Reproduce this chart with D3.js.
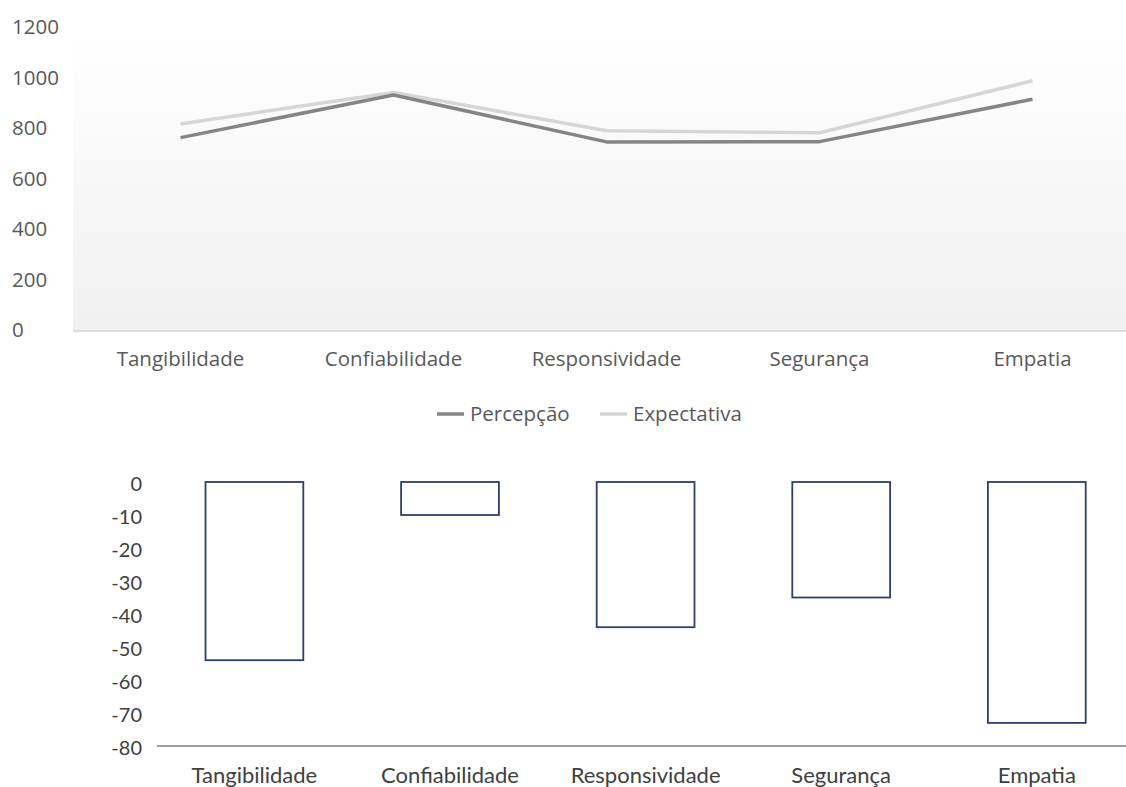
<!DOCTYPE html>
<html>
<head>
<meta charset="utf-8">
<script src="https://cdn.jsdelivr.net/npm/d3@7"></script>
<style>
  html, body { margin: 0; padding: 0; background: #fff; }
  svg { display: block; }
</style>
</head>
<body>
<svg id="chart" width="1126" height="787"></svg>
<script>
const categories = ["Tangibilidade", "Confiabilidade", "Responsividade", "Segurança", "Empatia"];
const percepcao = [762, 931, 745, 746, 914];
const expectativa = [816, 941, 789, 781, 987];
const gap = [-54, -10, -44, -35, -73];
const topTicks = [0, 200, 400, 600, 800, 1000, 1200];
const bottomTicks = [0, -10, -20, -30, -40, -50, -60, -70, -80];
const seriesNames = ["Percepção", "Expectativa"];

const svg = d3.select("#chart");
const fontTop = "'Open Sans', 'Noto Sans', sans-serif";
const fontBot = "Lato, 'Open Sans', sans-serif";
const topSize = 20.5;
const botTickSize = 20;
const botCatSize = 22;

// ---------- Top line chart ----------
const xTop = d3.scalePoint().domain(categories).range([74, 1139]).padding(0.5);
const yTop = d3.scaleLinear().domain([0, 1200]).range([330, 27]);

const defs = svg.append("defs");
const grad = defs.append("linearGradient").attr("id", "bg").attr("x1", 0).attr("y1", 0).attr("x2", 0).attr("y2", 1);
grad.append("stop").attr("offset", "0%").attr("stop-color", "#ffffff");
grad.append("stop").attr("offset", "100%").attr("stop-color", "#f0f0f0");

svg.append("rect").attr("x", 73).attr("y", 34).attr("width", 1126 - 73).attr("height", yTop(0) - 34)
  .attr("fill", "url(#bg)");
svg.append("line").attr("x1", 73).attr("x2", 1126).attr("y1", yTop(0) + 1).attr("y2", yTop(0) + 1)
  .attr("stroke", "#dcdcdc").attr("stroke-width", 2);

svg.append("g").selectAll("text").data(topTicks).join("text")
  .attr("x", 12).attr("y", d => yTop(d)).attr("dy", "0.35em")
  .attr("font-family", fontTop).attr("font-size", topSize).attr("fill", "#595959")
  .text(d => d);

svg.append("g").selectAll("text").data(categories).join("text")
  .attr("x", d => xTop(d)).attr("y", 359).attr("dy", "0.35em").attr("text-anchor", "middle")
  .attr("font-family", fontTop).attr("font-size", topSize).attr("fill", "#595959")
  .text(d => d);

const line = d3.line().x((d, i) => xTop(categories[i])).y(d => yTop(d));
const seriesColors = ["#858585", "#d6d6d6"];
svg.append("path").datum(expectativa).attr("d", line).attr("fill", "none")
  .attr("stroke", seriesColors[1]).attr("stroke-width", 3.5).attr("stroke-linejoin", "round");
svg.append("path").datum(percepcao).attr("d", line).attr("fill", "none")
  .attr("stroke", seriesColors[0]).attr("stroke-width", 3.5).attr("stroke-linejoin", "round");

// legend
const legend = svg.append("g");
const legendItems = [
  {name: seriesNames[0], color: seriesColors[0], x: 437},
  {name: seriesNames[1], color: seriesColors[1], x: 600}
];
legendItems.forEach(it => {
  legend.append("line").attr("x1", it.x).attr("x2", it.x + 27).attr("y1", 414).attr("y2", 414)
    .attr("stroke", it.color).attr("stroke-width", 3.5);
  legend.append("text").attr("x", it.x + 33).attr("y", 414).attr("dy", "0.35em")
    .attr("font-family", fontTop).attr("font-size", topSize).attr("fill", "#595959").text(it.name);
});

// ---------- Bottom bar chart ----------
const xBot = d3.scaleBand().domain(categories).range([156.6, 1134.6]).paddingInner(0.5).paddingOuter(0.25);
const yBot = d3.scaleLinear().domain([-80, 0]).range([746, 482]);

svg.append("g").selectAll("text").data(bottomTicks).join("text")
  .attr("x", 142).attr("y", d => yBot(d) + 2).attr("dy", "0.35em").attr("text-anchor", "end")
  .attr("font-family", fontBot).attr("font-size", botTickSize).attr("fill", "#404040")
  .text(d => d);

svg.append("line").attr("x1", 157).attr("x2", 1126).attr("y1", yBot(-80)).attr("y2", yBot(-80))
  .attr("stroke", "#7f7f7f").attr("stroke-width", 1.5);

svg.append("g").selectAll("rect").data(gap).join("rect")
  .attr("x", (d, i) => xBot(categories[i]))
  .attr("y", d => yBot(0))
  .attr("width", xBot.bandwidth())
  .attr("height", d => yBot(d) - yBot(0))
  .attr("fill", "#ffffff").attr("stroke", "#2f3e6b").attr("stroke-width", 1.8);

svg.append("g").selectAll("text").data(categories).join("text")
  .attr("x", d => xBot(d) + xBot.bandwidth() / 2).attr("y", 775).attr("dy", "0.35em").attr("text-anchor", "middle")
  .attr("font-family", fontBot).attr("font-size", botCatSize).attr("fill", "#404040")
  .text(d => d);
</script>
</body>
</html>
